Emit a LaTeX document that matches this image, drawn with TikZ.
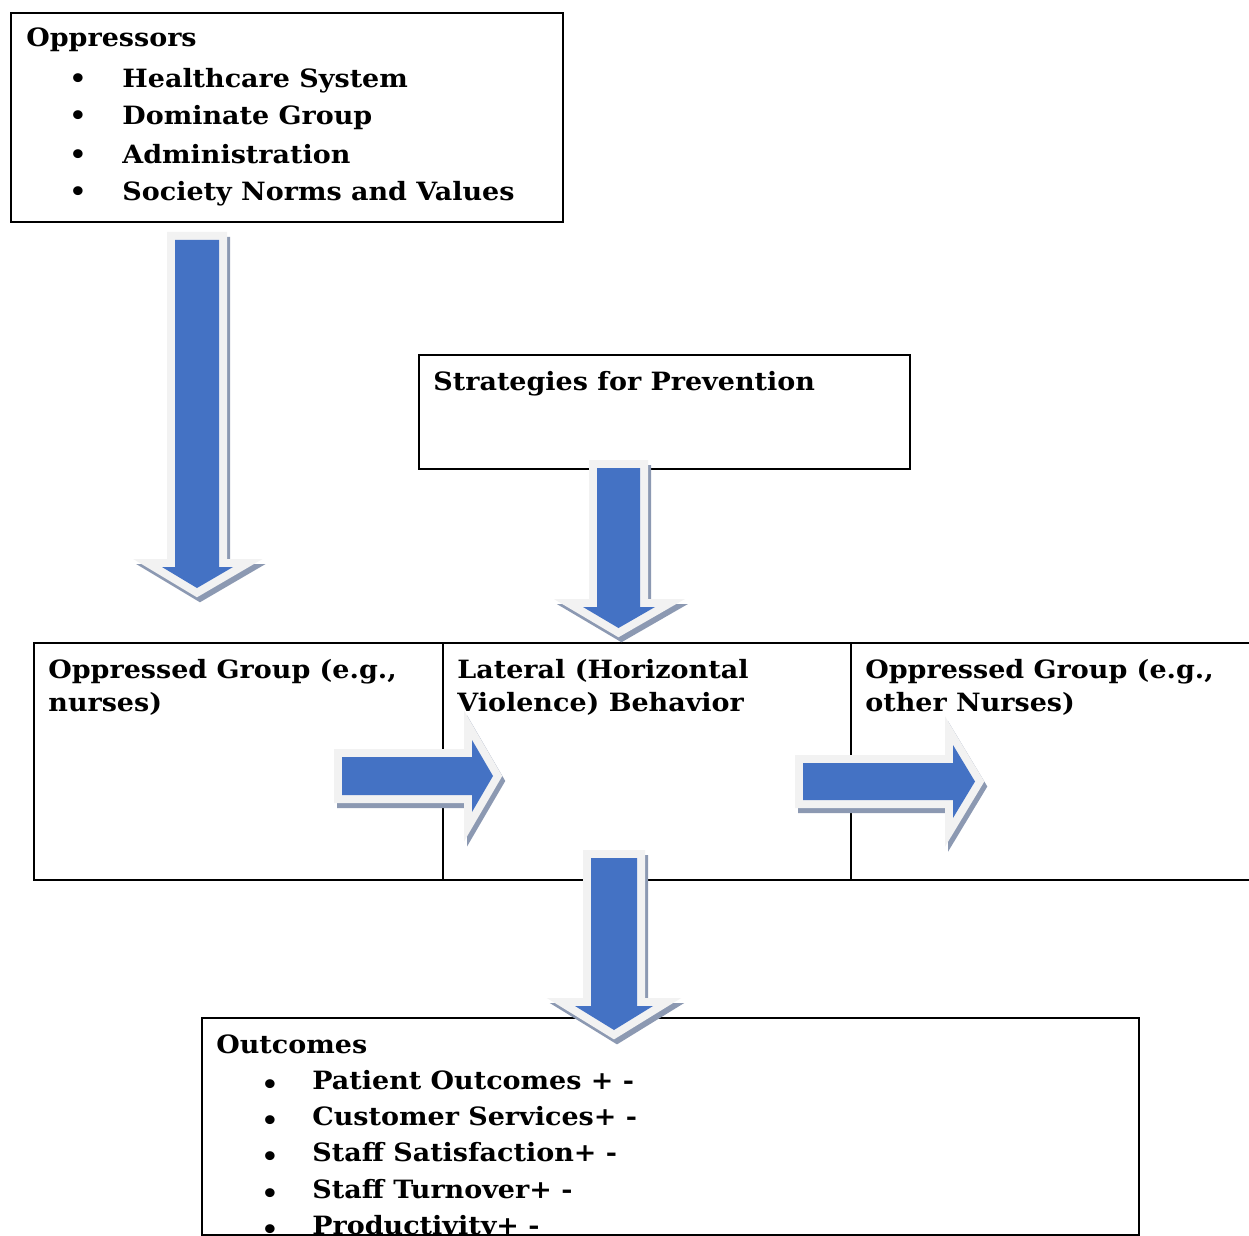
\documentclass[tikz,border=0pt]{standalone}
\usepackage{fontspec}
\setmainfont{DejaVu Serif}[FakeStretch=1.07]
\usepackage{tikz}
\usetikzlibrary{fit}

\definecolor{arrowblue}{RGB}{68,114,196}
\definecolor{arrowrim}{RGB}{242,242,242}
\definecolor{arrowshade}{RGB}{140,153,178}

\tikzset{
  box/.style={draw, line width=1pt, inner sep=0pt},
  lbl/.style={anchor=base west, inner sep=0pt, font=\bfseries\fontsize{12.6}{14}\selectfont},
  dot/.style={anchor=base, inner sep=0pt, font=\bfseries\fontsize{12.6}{14}\selectfont},
  shadelayer/.style={draw=arrowshade, fill=arrowshade, line width=8pt, line join=miter, shift={(3,5)}},
  rimlayer/.style={draw=arrowrim, fill=arrowrim, line width=8pt, line join=miter},
  bodylayer/.style={fill=arrowblue}
}

\begin{document}
\begin{tikzpicture}[x=0.5pt, y=-0.5pt]
    \useasboundingbox (0,0) rectangle (1249,1236);
    \clip (0,0) rectangle (1249,1236);

    % boxes
    \node[box, fit={(11,13) (563,222)}] (oppr) {};
    \node[box, fit={(419,355) (910,469)}] (strat) {};
    \node[box, fit={(34,643) (443,880)}] (group) {};
    \node[box, fit={(443,643) (851,880)}] (lateral) {};
    \node[box, fit={(851,643) (1262,880)}] (others) {};
    \node[box, fit={(202,1018) (1139,1235)}] (outc) {};

    % oppressors
    \node[lbl] (opprtitle) at (26,47) {Oppressors};
    \node[dot] (od1) at (78,88) {•};
    \node[dot] (od2) at (78,125) {•};
    \node[dot] (od3) at (78,163) {•};
    \node[dot] (od4) at (78,200) {•};
    \node[lbl] (health) at (122,88) {Healthcare System};
    \node[lbl] (domin) at (122,125) {Dominate Group};
    \node[lbl] (admin) at (122,163) {Administration};
    \node[lbl] (norms) at (122,200) {Society Norms and Values};

    % strategies
    \node[lbl] (strattitle) at (433,390) {Strategies for Prevention};

    % middle row
    \node[lbl] (group1) at (48,678) {Oppressed Group (e.g.,};
    \node[lbl] (group2) at (48,711) {nurses)};
    \node[lbl] (lateral1) at (457,678) {Lateral (Horizontal};
    \node[lbl] (lateral2) at (457,711) {Violence) Behavior};
    \node[lbl] (others1) at (865,678) {Oppressed Group (e.g.,};
    \node[lbl] (others2) at (865,711) {other Nurses)};

    % outcomes
    \node[lbl] (outctitle) at (216,1053) {Outcomes};
    \node[dot] (ud1) at (270,1093) {•};
    \node[dot] (ud2) at (270,1129) {•};
    \node[dot] (ud3) at (270,1165) {•};
    \node[dot] (ud4) at (270,1202) {•};
    \node[dot] (ud5) at (270,1238) {•};
    \node[lbl] (patient) at (312,1089) {Patient Outcomes + -};
    \node[lbl] (customer) at (312,1125) {Customer Services+ -};
    \node[lbl] (satisf) at (312,1161) {Staff Satisfaction+ -};
    \node[lbl] (turnover) at (312,1198) {Staff Turnover+ -};
    \node[lbl] (product) at (312,1234) {Productivity+ -};

    % block arrows: shadow, rim, body
    \foreach \lay in {shadelayer, rimlayer, bodylayer} {
      \path[\lay] (175,240) -- (219,240) -- (219,567) -- (233,567) -- (197,588)
          -- (162,567) -- (175,567) -- cycle;
      \path[\lay] (597,468) -- (640,468) -- (640,607) -- (655,607) -- (618.5,628)
          -- (583,607) -- (597,607) -- cycle;
      \path[\lay] (591,858) -- (637,858) -- (637,1006) -- (653,1006) -- (614,1030)
          -- (575,1006) -- (591,1006) -- cycle;
      \path[\lay] (342,757) -- (472,757) -- (472,740) -- (493,776) -- (472,812)
          -- (472,795) -- (342,795) -- cycle;
      \path[\lay] (803,763) -- (953,763) -- (953,745) -- (975,781.5) -- (953,818)
          -- (953,800) -- (803,800) -- cycle;
    }
\end{tikzpicture}
\end{document}
